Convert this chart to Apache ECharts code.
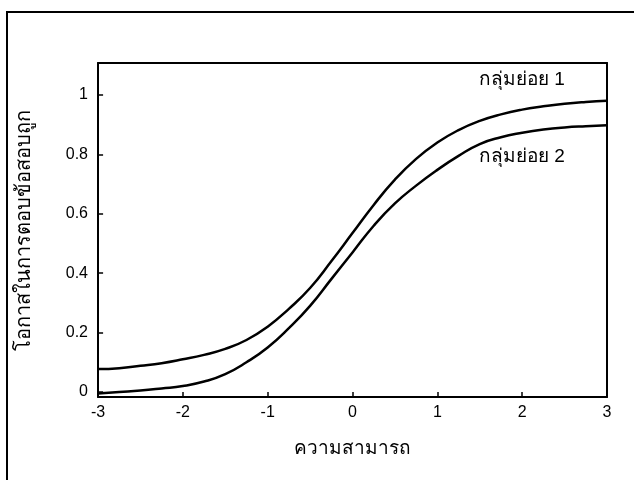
<!DOCTYPE html>
<html>
<head>
<meta charset="utf-8">
<script src="https://cdn.jsdelivr.net/npm/echarts@6/dist/echarts.min.js"></script>
<style>
  html, body { margin: 0; padding: 0; background: #fff; }
  #chart { width: 634px; height: 480px; }
</style>
</head>
<body>
<div id="chart"></div>
<script>
  // ability values (x) and probability of a correct answer for each subgroup
  var abilities = [-3, -2.75, -2.5, -2.25, -2, -1.75, -1.5, -1.25, -1, -0.75, -0.5, -0.25,
                   0, 0.25, 0.5, 0.75, 1, 1.25, 1.5, 1.75, 2, 2.25, 2.5, 2.75, 3];
  var group1 = [0.077, 0.08, 0.088, 0.097, 0.11, 0.125, 0.145, 0.175, 0.22, 0.28, 0.35, 0.44,
                0.535, 0.63, 0.715, 0.785, 0.84, 0.882, 0.913, 0.935, 0.951, 0.962, 0.971, 0.977, 0.981];
  var group2 = [-0.005, 0.0, 0.005, 0.012, 0.02, 0.035, 0.06, 0.1, 0.15, 0.215, 0.29, 0.38,
                0.47, 0.56, 0.635, 0.695, 0.748, 0.795, 0.835, 0.858, 0.873, 0.884, 0.891, 0.895, 0.898];
  var xTicks = [-3, -2, -1, 0, 1, 2, 3];
  var yTicks = [0, 0.2, 0.4, 0.6, 0.8, 1];
  var seriesNames = ['กลุ่มย่อย 1', 'กลุ่มย่อย 2'];

  var font = "'Liberation Sans', Arial, 'Noto Sans', 'DejaVu Sans', sans-serif";
  var xMin = -3, xMax = 3;
  var yMin = -0.017, yMax = 1.108;

  function pairs(ys) {
    var out = [];
    for (var i = 0; i < abilities.length; i++) {
      out.push([abilities[i], ys[i]]);
    }
    return out;
  }

  // only print the labels that are in the tick lists
  function pick(list) {
    return function (v) {
      for (var i = 0; i < list.length; i++) {
        if (Math.abs(list[i] - v) < 1e-6) return String(list[i]);
      }
      return '';
    };
  }

  // short inward tick marks, ~5px long, drawn as mark lines in data space
  function tickMarks() {
    var lines = [];
    var dy = 0.017, dx = 0.06;
    xTicks.forEach(function (t) {
      if (t === xMin || t === xMax) return;
      lines.push([{ coord: [t, yMin] }, { coord: [t, yMin + dy] }]);
    });
    yTicks.forEach(function (t) {
      lines.push([{ coord: [xMin, t] }, { coord: [xMin + dx, t] }]);
    });
    return lines;
  }

  var frameLine = { show: true, onZero: false, lineStyle: { color: '#000', width: 2 } };

  var myChart = echarts.init(document.getElementById('chart'));
  var option = {
    animation: false,
    grid: {
      left: 98,
      right: 27,
      top: 63,
      bottom: 83
    },
    xAxis: [{
      type: 'value',
      position: 'bottom',
      min: xMin,
      max: xMax,
      interval: 1,
      name: 'ความสามารถ',
      nameLocation: 'middle',
      nameGap: 42,
      nameTextStyle: { color: '#000', fontSize: 19, fontFamily: font },
      axisLine: frameLine,
      splitLine: { show: false },
      axisTick: { show: false },
      axisLabel: { color: '#000', fontSize: 16, fontFamily: font, margin: 8,
                   formatter: pick(xTicks) }
    }, {
      // top edge of the frame
      type: 'value',
      position: 'top',
      min: xMin,
      max: xMax,
      axisLine: frameLine,
      axisTick: { show: false },
      axisLabel: { show: false },
      splitLine: { show: false }
    }],
    yAxis: [{
      type: 'value',
      position: 'left',
      min: yMin,
      max: yMax,
      splitNumber: 5,
      name: 'โอกาสในการตอบข้อสอบถูก',
      nameLocation: 'middle',
      nameGap: 64,
      nameTextStyle: { color: '#000', fontSize: 20, fontFamily: font },
      axisLine: frameLine,
      splitLine: { show: false },
      axisTick: { show: false },
      axisLabel: { color: '#000', fontSize: 16, fontFamily: font, margin: 10,
                   showMinLabel: false, showMaxLabel: false,
                   formatter: pick(yTicks) }
    }, {
      // right edge of the frame
      type: 'value',
      position: 'right',
      min: yMin,
      max: yMax,
      axisLine: frameLine,
      axisTick: { show: false },
      axisLabel: { show: false },
      splitLine: { show: false }
    }],
    series: [
      {
        name: seriesNames[0],
        type: 'line',
        smooth: true,
        showSymbol: false,
        lineStyle: { color: '#000', width: 2.5 },
        data: pairs(group1),
        markLine: {
          silent: true,
          symbol: ['none', 'none'],
          label: { show: false },
          lineStyle: { color: '#000', width: 1.5, type: 'solid' },
          data: tickMarks()
        }
      },
      {
        name: seriesNames[1],
        type: 'line',
        smooth: true,
        showSymbol: false,
        lineStyle: { color: '#000', width: 2.5 },
        data: pairs(group2)
      }
    ],
    graphic: [
      { // outer frame
        type: 'rect',
        shape: { x: 7, y: 12, width: 660, height: 520 },
        style: { fill: 'none', stroke: '#000', lineWidth: 2 },
        silent: true
      },
      {
        type: 'text',
        left: 479,
        top: 70,
        style: { text: seriesNames[0], fill: '#000', fontSize: 19, fontFamily: font }
      },
      {
        type: 'text',
        left: 479,
        top: 147,
        style: { text: seriesNames[1], fill: '#000', fontSize: 19, fontFamily: font }
      }
    ]
  };
  myChart.setOption(option);
</script>
</body>
</html>
